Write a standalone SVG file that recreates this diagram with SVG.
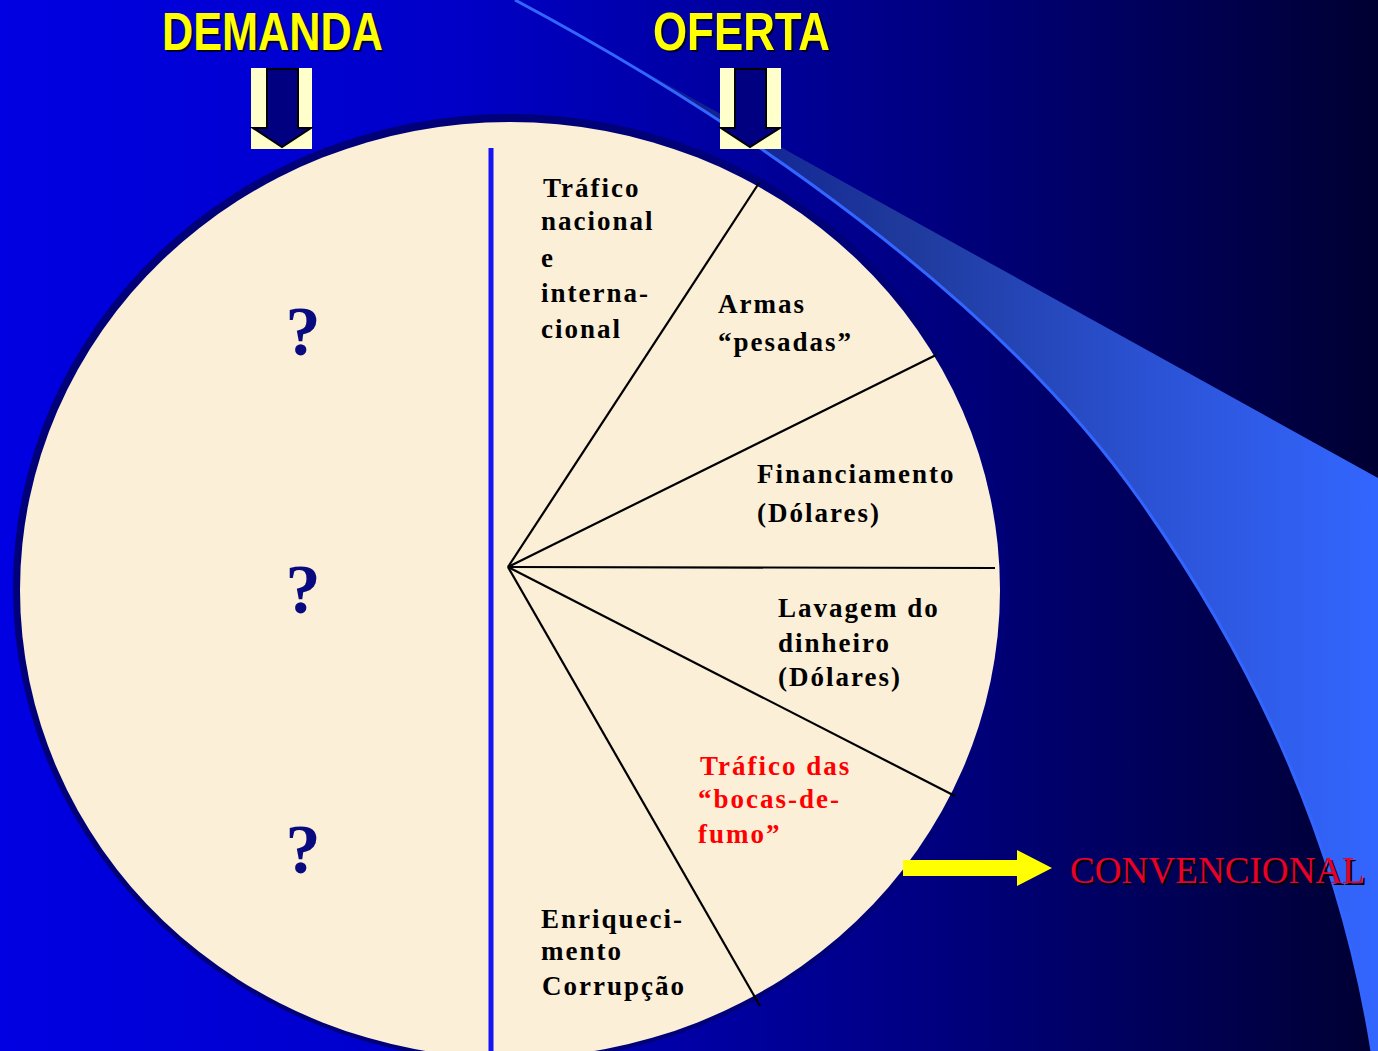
<svg xmlns="http://www.w3.org/2000/svg" width="1378" height="1051" viewBox="0 0 1378 1051">
<defs>
<linearGradient id="bg" gradientUnits="userSpaceOnUse" x1="0" y1="0" x2="1378" y2="0">
<stop offset="0" stop-color="#0000E2"/>
<stop offset="0.33" stop-color="#0000C8"/>
<stop offset="0.66" stop-color="#000084"/>
<stop offset="1" stop-color="#000032"/>
</linearGradient>
<linearGradient id="band" gradientUnits="userSpaceOnUse" x1="620" y1="0" x2="1378" y2="0">
<stop offset="0" stop-color="#0a1690"/>
<stop offset="0.38" stop-color="#1f3a9c"/>
<stop offset="0.7" stop-color="#2b52d4"/>
<stop offset="1" stop-color="#3366FF"/>
</linearGradient>
<style>
.lbl{font-family:"Liberation Serif","Times New Roman",serif;font-weight:bold;font-size:27px;letter-spacing:2px;fill:#000}
.red{fill:#FF0000}
.q{font-family:"Liberation Serif","Times New Roman",serif;font-weight:bold;font-size:70px;fill:#0a0a80;text-anchor:middle}
.head{font-family:"Liberation Sans",Arial,sans-serif;font-weight:bold;font-size:53px}
.spoke{stroke:#000;stroke-width:2.2;fill:none}
.darr{fill:#000080;stroke:#000;stroke-width:2}
</style>
</defs>
<rect width="1378" height="1051" fill="url(#bg)"/>
<g id="swoosh">
<path d="M515,0 C740,120 1000,300 1140,500 C1260,670 1340,850 1372,1051 L1378,1051 L1378,478 Z" fill="url(#band)"/>
<path d="M515,0 C740,120 1000,300 1140,500 C1260,670 1340,850 1372,1051" fill="none" stroke="#3366FF" stroke-width="3"/>
</g>
<g id="circle">
<ellipse cx="510" cy="588" rx="497" ry="474" fill="#000078"/>
<ellipse cx="510" cy="590" rx="490" ry="468" fill="#FBEFD7"/>
<line x1="491" y1="148" x2="491" y2="1051" stroke="#1414F5" stroke-width="5"/>
</g>
<g id="connectors">
<line class="spoke" x1="508" y1="567" x2="759" y2="183"/>
<line class="spoke" x1="508" y1="567" x2="936" y2="355"/>
<line class="spoke" x1="508" y1="567" x2="995" y2="568"/>
<line class="spoke" x1="508" y1="567" x2="955" y2="796"/>
<line class="spoke" x1="508" y1="567" x2="760" y2="1006"/>
<path d="M903,860 L1017,860 L1017,850 L1052,868 L1017,886 L1017,876 L903,876 Z" fill="#FFFF00"/>
</g>
<g id="demanda">
<text class="head" x="164" y="52" fill="#000033" textLength="221" lengthAdjust="spacingAndGlyphs">DEMANDA</text>
<text class="head" x="162" y="50" fill="#FFFF00" textLength="221" lengthAdjust="spacingAndGlyphs">DEMANDA</text>
<rect x="251" y="68" width="61" height="81" fill="#FFFFCC"/>
<path class="darr" d="M267,69 L298,69 L298,128 L311,128 L282,147 L253,128 L267,128 Z"/>
</g>
<g id="oferta">
<text class="head" x="655" y="52" fill="#000033" textLength="177" lengthAdjust="spacingAndGlyphs">OFERTA</text>
<text class="head" x="653" y="50" fill="#FFFF00" textLength="177" lengthAdjust="spacingAndGlyphs">OFERTA</text>
<rect x="720" y="68" width="61" height="81" fill="#FFFFCC"/>
<path class="darr" d="M735,69 L766,69 L766,128 L780,128 L750,147 L721,128 L735,128 Z"/>
</g>
<g id="questions">
<text class="q" x="303" y="355">?</text>
<text class="q" x="303" y="613">?</text>
<text class="q" x="303" y="873">?</text>
</g>
<g id="trafico">
<text class="lbl" x="543" y="197">Tráfico</text>
<text class="lbl" x="541" y="230">nacional</text>
<text class="lbl" x="541" y="267">e</text>
<text class="lbl" x="541" y="302">interna-</text>
<text class="lbl" x="541" y="338">cional</text>
</g>
<g id="armas">
<text class="lbl" x="718" y="313">Armas</text>
<text class="lbl" x="718" y="351">“pesadas”</text>
</g>
<g id="financiamento">
<text class="lbl" x="757" y="483">Financiamento</text>
<text class="lbl" x="757" y="522">(Dólares)</text>
</g>
<g id="lavagem">
<text class="lbl" x="778" y="617">Lavagem do</text>
<text class="lbl" x="778" y="652">dinheiro</text>
<text class="lbl" x="778" y="686">(Dólares)</text>
</g>
<g id="bocas">
<text class="lbl red" x="700" y="775">Tráfico das</text>
<text class="lbl red" x="698" y="808">“bocas-de-</text>
<text class="lbl red" x="698" y="843">fumo”</text>
</g>
<g id="enriquecimento">
<text class="lbl" x="541" y="928">Enriqueci-</text>
<text class="lbl" x="541" y="960">mento</text>
<text class="lbl" x="542" y="995">Corrupção</text>
</g>
<g id="convencional">
<text x="1072" y="885" font-family="Liberation Serif,Times New Roman,serif" font-size="38" fill="#000000" textLength="295" lengthAdjust="spacingAndGlyphs">CONVENCIONAL</text>
<text x="1070" y="883" font-family="Liberation Serif,Times New Roman,serif" font-size="38" fill="#E8002E" textLength="295" lengthAdjust="spacingAndGlyphs">CONVENCIONAL</text>
</g>
</svg>
